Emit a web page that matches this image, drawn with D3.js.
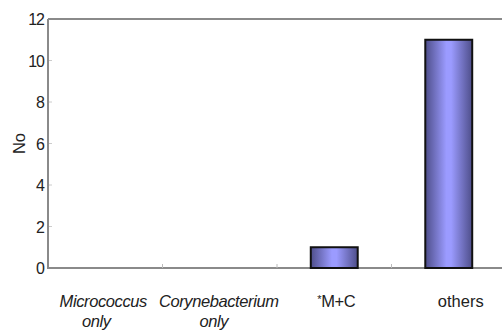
<!DOCTYPE html>
<html><head><meta charset="utf-8">
<script src="https://cdn.jsdelivr.net/npm/d3@7"></script>
<style>body{margin:0;background:#fff}svg{display:block}text{font-family:"Liberation Sans",Arial,sans-serif;fill:#222}</style>
</head><body><svg id="c" width="502" height="334"></svg>
<script>
const categories = ["Micrococcus only", "Corynebacterium only", "*M+C", "others"];
const values = [0, 0, 1, 11];
const yTicks = [0, 2, 4, 6, 8, 10, 12];

const svg = d3.select("#c");
const x = d3.scaleBand().domain(categories).range([48, 506]).paddingInner(0.59).paddingOuter(0.295);
const y = d3.scaleLinear().domain([0, 12]).range([268, 19]);

const defs = svg.append("defs");
const g = defs.append("linearGradient").attr("id", "cyl").attr("x1", "0").attr("x2", "1").attr("y1", "0").attr("y2", "0");
g.append("stop").attr("offset", "0").attr("stop-color", "#4e4e8a");
g.append("stop").attr("offset", "0.45").attr("stop-color", "#9b9bff");
g.append("stop").attr("offset", "0.55").attr("stop-color", "#9b9bff");
g.append("stop").attr("offset", "1").attr("stop-color", "#4e4e8a");

// frame
svg.append("path").attr("d", `M48,${y(12)}H502M48,${y(12)}V${y(0)}H502`)
  .attr("fill", "none").attr("stroke", "#8a8a8a").attr("stroke-width", 2);

// minor inward y ticks
svg.selectAll("line.yt").data(yTicks.slice(1, -1)).join("line").attr("class", "yt")
  .attr("x1", 49).attr("x2", 52).attr("y1", d => y(d)).attr("y2", d => y(d))
  .attr("stroke", "#ccc").attr("stroke-width", 1);

// category tick marks
const step = x.step();
categories.forEach((c, i) => {
  if (i === 0) return;
  const bx = x(c) - (step - x.bandwidth()) / 2;
  svg.append("line").attr("x1", bx).attr("x2", bx)
    .attr("y1", y(0) - 4).attr("y2", y(0)).attr("stroke", "#bbb").attr("stroke-width", 1);
});

// y axis labels
const yAxis = d3.axisLeft(y).tickValues(yTicks).tickSize(0).tickPadding(4);
const ya = svg.append("g").attr("transform", "translate(48,0)").call(yAxis);
ya.select(".domain").remove();
ya.selectAll("text").attr("dy", "0.36em").style("font-size", "16px").style("letter-spacing", "-1px")
  .style("fill", "#222").style("font-family", "Liberation Sans, Arial, sans-serif");

svg.append("text").attr("transform", `translate(25,${(y(0)+y(12))/2}) rotate(-90)`)
  .attr("text-anchor", "middle").style("font-size", "16.5px").text("No");

// bars
svg.selectAll("rect.bar").data(values).join("rect").attr("class", "bar")
  .attr("x", (d, i) => x(categories[i]))
  .attr("width", x.bandwidth())
  .attr("y", d => y(d))
  .attr("height", d => y(0) - y(d))
  .attr("fill", "url(#cyl)").attr("stroke", "#111").attr("stroke-width", 2)
  .style("display", d => d > 0 ? null : "none");

// x labels
const labelOffsets = [-2, -1, 2, 12];
const onlyOffsets = [-7, -5];
const xl = svg.append("g");
categories.forEach((c, i) => {
  const cx = x(c) + x.bandwidth() / 2 + labelOffsets[i];
  const t = xl.append("text").attr("x", cx).attr("y", 307).attr("text-anchor", "middle")
    .style("font-size", "16.5px").style("letter-spacing", i === 3 ? "0px" : "-0.4px");
  if (c === "*M+C") {
    t.append("tspan").attr("dy", "-4").style("font-size", "11px").text("*");
    t.append("tspan").attr("dy", "4").text("M+C");
  } else if (c.endsWith(" only")) {
    t.style("font-style", "italic").text(c.replace(" only", ""));
    xl.append("text").attr("x", cx + onlyOffsets[i]).attr("y", 327).attr("text-anchor", "middle")
      .style("font-size", "16.5px").style("font-style", "italic").style("letter-spacing", "-0.4px").text("only");
  } else {
    t.text(c);
  }
});
</script></body></html>
